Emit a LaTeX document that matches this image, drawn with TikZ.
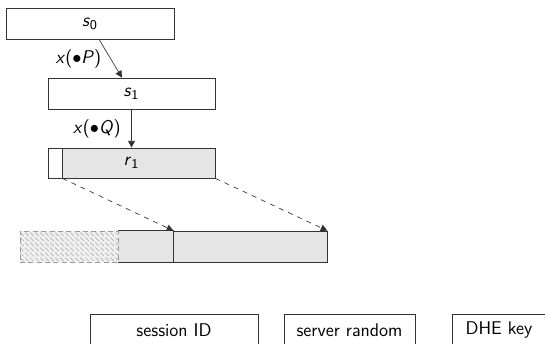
\documentclass[tikz,border=0pt]{standalone}
\usepackage{tikz}
\usetikzlibrary{arrows.meta,positioning,patterns}
\renewcommand{\familydefault}{\sfdefault}
\newcommand{\mv}[1]{\textit{#1}}
\definecolor{fieldgray}{gray}{0.9}
\definecolor{linegray}{gray}{0.2}

\begin{document}
\begin{tikzpicture}[
  x=0.021cm, y=-0.021cm,
  >={Triangle[length=4pt,width=4pt]},
  every node/.style={font=\fontsize{11}{13}\selectfont},
  field/.style={draw=linegray, inner sep=0pt, minimum height=0.651cm},
  keyfield/.style={field, fill=fieldgray}
]
\useasboundingbox (0,0) rectangle (545,343);
\clip (0,0) rectangle (545,343);

%% states
\node[field, minimum width=3.528cm] (s0) at (90,23.5) {\mv{s}$_\mathsf{0}$};
\node[field, minimum width=3.507cm] (s1) at (131.5,93.5) {\mv{s}$_\mathsf{1}$};
\node[keyfield, minimum width=3.507cm, minimum height=0.63cm] (r1) at (131.5,163) {\mv{r}$_\mathsf{1}$};
\node[field, fill=white, minimum width=0.294cm, minimum height=0.63cm,
      anchor=west] (rpad) at (r1.west) {};

%% transitions
\draw[->, linegray] ([xshift=0.19cm]s0.south) -- ([xshift=-0.2cm]s1.north)
  node[midway, left, xshift=-2pt, text=black] {\mv{x}($\bullet$\mv{P})};
\draw[->, linegray] (s1.south) -- (r1.north)
  node[midway, left, xshift=-3pt, text=black] {\mv{x}($\bullet$\mv{Q})};

%% output block
\node[fill=fieldgray, inner sep=0pt, minimum width=3.213cm, minimum height=0.651cm]
  (k1) at (96.5,246.5) {};
\node[keyfield, minimum width=3.234cm] (k2) at (250,246.5) {};
\node[inner sep=0pt, minimum width=2.058cm, minimum height=0.651cm,
      anchor=west, preaction={fill=fieldgray!60},
      pattern=north west lines, pattern color=gray!60,
      draw=gray!80, densely dashed] (kpad) at (k1.west) {};
\draw[linegray] (kpad.north east) -- (k1.north east) -- (k1.south east) -- (kpad.south east);

\draw[->, dashed, linegray] (rpad.south east) -- (k1.north east);
\draw[->, dashed, linegray] (r1.south east) -- (k2.north east);

%% message fields
\node[field, minimum width=3.528cm] (sid) at (174,330) {session ID};
\node[field, minimum width=2.751cm] (srand) at (349.5,330) {server random};
\node[field, minimum width=1.974cm] (dhe) at (499,330) {DHE key};

\end{tikzpicture}
\end{document}
